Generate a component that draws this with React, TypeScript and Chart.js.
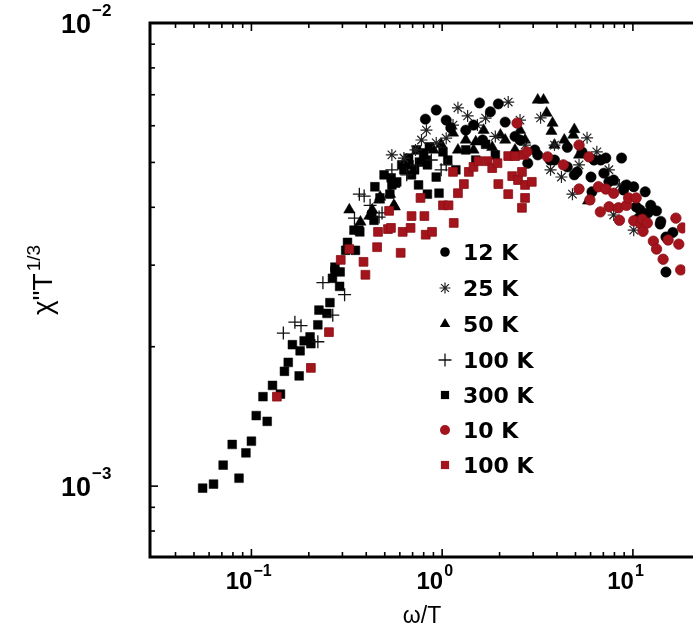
import React, { useEffect, useRef } from 'react';
import { Chart, registerables } from 'chart.js';

Chart.register(...registerables);

// ---- axis ranges ----
const X_MIN = 0.0294;
const X_MAX = 18.8;
const Y_MIN = 0.000703;
const Y_MAX = 0.01;

// ---- tick labels ----
const tickBase = '10';
const xMajorTicks = [0.1, 1, 10];
const xMajorExponents = ['\u22121', '0', '1'];
const xMinorTicks = [0.04, 0.05, 0.06, 0.07, 0.08, 0.09, 0.2, 0.3, 0.4, 0.5, 0.6, 0.7, 0.8, 0.9, 2, 3, 4, 5, 6, 7, 8, 9];
const yMajorTicks = [0.001, 0.01];
const yMajorExponents = ['\u22123', '\u22122'];
const yMinorTicks = [0.0008, 0.0009, 0.002, 0.003, 0.004, 0.005, 0.006, 0.007, 0.008, 0.009];

const xAxisTitle = 'ω/T';
const yAxisTitleMain = 'χ"T';
const yAxisTitleSup = '1/3';

const legendLabels = ['12 K', '25 K', '50 K', '100 K', '300 K', '10 K', '100 K'];

// ---- series: 12 K (black circles) ----
const x12K = [0.817, 0.931, 1.05, 1.11, 1.33, 1.46, 1.57, 1.63, 1.79, 1.97, 2.14, 2.41, 2.56, 2.81, 3.06, 3.17, 3.68, 3.88, 4.53, 4.53, 4.93, 5.10, 5.41, 6.03, 6.10, 6.25, 6.78, 7.04, 7.21, 7.48, 7.93, 8.72, 8.93, 9.26, 10.1, 10.4, 10.7, 10.9, 11.6, 11.7, 12.0, 12.4, 13.3, 13.9, 14.0, 14.9, 14.9, 16.2];
const y12K = [0.00620, 0.00649, 0.00617, 0.00594, 0.00587, 0.00602, 0.00672, 0.00559, 0.00643, 0.00669, 0.00611, 0.00569, 0.00559, 0.00498, 0.00532, 0.00519, 0.00506, 0.00506, 0.00539, 0.00489, 0.00470, 0.00477, 0.00527, 0.00465, 0.00432, 0.00506, 0.00506, 0.00474, 0.00511, 0.00454, 0.00458, 0.00511, 0.00436, 0.00447, 0.00443, 0.00401, 0.00379, 0.00395, 0.00432, 0.00372, 0.00389, 0.00404, 0.00393, 0.00368, 0.00373, 0.00345, 0.00290, 0.00353];

// ---- series: 25 K (asterisks) ----
const x25K = [0.545, 0.63, 0.725, 0.779, 0.827, 0.931, 1.05, 1.14, 1.21, 1.36, 1.53, 1.69, 1.90, 2.22, 2.56, 2.72, 3.28, 3.70, 3.88, 4.22, 4.82, 5.22, 5.75, 6.47, 7.48, 7.93, 8.50, 10.1];
const y25K = [0.00519, 0.00511, 0.00532, 0.00559, 0.00587, 0.00551, 0.00564, 0.00602, 0.00656, 0.00630, 0.00602, 0.00623, 0.00569, 0.00675, 0.00617, 0.00545, 0.00624, 0.00482, 0.00545, 0.00465, 0.00427, 0.00494, 0.00565, 0.00527, 0.00482, 0.00385, 0.00447, 0.00357];

// ---- series: 50 K (triangles) ----
const x50K = [0.326, 0.351, 0.373, 0.415, 0.430, 0.467, 0.473, 0.533, 0.558, 0.565, 0.652, 0.779, 0.90, 0.988, 1.14, 1.21, 1.33, 1.46, 1.50, 1.65, 1.83, 2.02, 2.14, 2.41, 2.56, 2.72, 3.17, 3.40, 3.53, 3.74, 3.79, 3.88, 4.37, 4.87, 4.93, 5.22, 5.82];
const y50K = [0.00395, 0.00357, 0.00372, 0.00383, 0.00395, 0.00415, 0.00421, 0.00427, 0.00404, 0.00401, 0.00506, 0.00506, 0.00532, 0.00547, 0.00579, 0.00532, 0.00559, 0.00532, 0.00554, 0.00587, 0.00539, 0.00573, 0.00559, 0.00532, 0.00587, 0.00559, 0.00682, 0.00682, 0.00639, 0.00584, 0.00608, 0.00545, 0.00559, 0.00573, 0.00589, 0.00519, 0.00413];

// ---- series: 100 K (plus) ----
const x100K = [0.147, 0.169, 0.182, 0.223, 0.237, 0.267, 0.308, 0.347, 0.368, 0.390, 0.419, 0.467, 0.484, 0.545, 0.652, 0.734, 0.877, 0.988, 1.05];
const y100K = [0.00214, 0.00226, 0.00222, 0.00205, 0.00275, 0.00234, 0.00259, 0.00379, 0.00427, 0.00423, 0.00404, 0.00381, 0.00389, 0.00482, 0.00470, 0.00494, 0.00506, 0.00482, 0.00494];

// ---- series: 300 K (black squares) ----
const x300K = [0.0555, 0.0633, 0.0711, 0.0793, 0.0861, 0.0936, 0.100, 0.106, 0.115, 0.121, 0.129, 0.142, 0.149, 0.156, 0.164, 0.178, 0.180, 0.189, 0.203, 0.205, 0.223, 0.226, 0.249, 0.258, 0.266, 0.274, 0.274, 0.290, 0.292, 0.312, 0.319, 0.345, 0.351, 0.366, 0.370, 0.428, 0.439, 0.444, 0.472, 0.496, 0.532, 0.540, 0.545, 0.570, 0.578, 0.614, 0.630, 0.667, 0.671, 0.691, 0.717, 0.734, 0.752, 0.760, 0.80, 0.827, 0.837, 0.837, 0.857, 0.931, 0.963, 1.01, 1.07, 1.18, 1.33, 1.50, 1.69, 1.90];
const y300K = [0.000990, 0.00101, 0.00111, 0.00123, 0.00104, 0.00118, 0.00125, 0.00142, 0.00156, 0.00138, 0.00165, 0.00158, 0.00177, 0.00185, 0.00202, 0.00173, 0.00196, 0.00206, 0.00210, 0.00203, 0.00223, 0.00240, 0.00236, 0.00249, 0.00281, 0.00291, 0.00297, 0.00270, 0.00290, 0.00323, 0.00336, 0.00357, 0.00323, 0.00357, 0.00354, 0.00385, 0.00375, 0.00443, 0.00419, 0.00470, 0.00427, 0.00463, 0.00447, 0.00451, 0.00454, 0.00494, 0.00482, 0.00511, 0.00494, 0.00470, 0.00482, 0.00532, 0.00447, 0.00501, 0.00524, 0.00506, 0.00427, 0.00494, 0.00540, 0.00465, 0.00429, 0.00527, 0.00506, 0.00482, 0.00532, 0.00506, 0.00547, 0.00519];

// ---- series: 10 K (red circles) ----
const x10Kred = [2.47, 2.78, 3.57, 4.32, 5.22, 5.22, 5.88, 5.95, 6.60, 6.75, 7.21, 7.50, 7.93, 8.40, 8.50, 9.26, 9.50, 10.1, 10.4, 11.0, 11.2, 11.3, 11.9, 12.8, 13.3, 14.4, 15.3, 16.8, 17.4, 17.8, 18.2];
const y10Kred = [0.00608, 0.00527, 0.00514, 0.00494, 0.00545, 0.00438, 0.00514, 0.00415, 0.00443, 0.00391, 0.00438, 0.00401, 0.00429, 0.00399, 0.00375, 0.00404, 0.00419, 0.00374, 0.00419, 0.00368, 0.00377, 0.00355, 0.00370, 0.00338, 0.00325, 0.00309, 0.00340, 0.00379, 0.00333, 0.00293, 0.00361];

// ---- series: 100 K (red squares) ----
const x100Kred = [0.136, 0.205, 0.255, 0.294, 0.326, 0.387, 0.396, 0.456, 0.461, 0.520, 0.527, 0.539, 0.606, 0.621, 0.683, 0.691, 0.770, 0.807, 0.820, 0.885, 1.01, 1.08, 1.14, 1.15, 1.21, 1.30, 1.38, 1.46, 1.55, 1.73, 1.83, 1.95, 1.97, 2.22, 2.22, 2.33, 2.41, 2.50, 2.62, 2.62, 2.68, 2.72, 2.72, 2.95];
const y100Kred = [0.00156, 0.00180, 0.00215, 0.00308, 0.00325, 0.00305, 0.00286, 0.00328, 0.00354, 0.00359, 0.00393, 0.00361, 0.00319, 0.00354, 0.00361, 0.00383, 0.00419, 0.00383, 0.00349, 0.00354, 0.00404, 0.00404, 0.00477, 0.00370, 0.00429, 0.00449, 0.00477, 0.00489, 0.00503, 0.00503, 0.00486, 0.00498, 0.00449, 0.00516, 0.00427, 0.00467, 0.00516, 0.00458, 0.00477, 0.00399, 0.00519, 0.00447, 0.00419, 0.00454];

const RED = '#a3141c';
const RED_EDGE = '#8a0f15';

const pts = (xs: number[], ys: number[]) => xs.map((x, i) => ({ x, y: ys[i] }));

const TICK_FONT = '"Liberation Sans", Arial, Helvetica, sans-serif';
const LEGEND_FONT = '"DejaVu Sans", "Liberation Sans", sans-serif';

function drawMarker(ctx: CanvasRenderingContext2D, style: string, x: number, y: number, r: number, fill: string, stroke: string, lw: number) {
  ctx.save();
  ctx.fillStyle = fill;
  ctx.strokeStyle = stroke;
  ctx.lineWidth = lw;
  ctx.beginPath();
  if (style === 'circle') {
    ctx.arc(x, y, r, 0, Math.PI * 2);
    ctx.fill();
  } else if (style === 'rect') {
    const s = r * Math.SQRT1_2;
    ctx.rect(x - s, y - s, 2 * s, 2 * s);
    ctx.fill();
  } else if (style === 'triangle') {
    for (let k = 0; k < 3; k++) {
      const ang = (k * 2 * Math.PI) / 3;
      const px = x + Math.sin(ang) * r;
      const py = y - Math.cos(ang) * r;
      if (k === 0) ctx.moveTo(px, py); else ctx.lineTo(px, py);
    }
    ctx.closePath();
    ctx.fill();
  } else if (style === 'cross') {
    ctx.moveTo(x - r, y); ctx.lineTo(x + r, y);
    ctx.moveTo(x, y - r); ctx.lineTo(x, y + r);
    ctx.stroke();
  } else if (style === 'star') {
    ctx.moveTo(x - r, y); ctx.lineTo(x + r, y);
    ctx.moveTo(x, y - r); ctx.lineTo(x, y + r);
    const d = r * Math.SQRT1_2;
    ctx.moveTo(x - d, y - d); ctx.lineTo(x + d, y + d);
    ctx.moveTo(x - d, y + d); ctx.lineTo(x + d, y - d);
    ctx.stroke();
  }
  ctx.restore();
}

const framePlugin = {
  id: 'frameAndLabels',
  beforeDatasetsDraw(chart: any) {
    const { ctx, chartArea: a } = chart;
    const xs = chart.scales.x;
    const ys = chart.scales.y;
    ctx.save();
    ctx.strokeStyle = '#000';
    ctx.lineJoin = 'miter';
    ctx.lineWidth = 3;
    ctx.beginPath();
    ctx.moveTo(chart.width, a.top);
    ctx.lineTo(a.left, a.top);
    ctx.lineTo(a.left, a.bottom);
    ctx.lineTo(chart.width, a.bottom);
    ctx.stroke();

    ctx.lineWidth = 1.6;
    const seg = (x1: number, y1: number, x2: number, y2: number) => {
      ctx.beginPath();
      ctx.moveTo(x1, y1);
      ctx.lineTo(x2, y2);
      ctx.stroke();
    };
    xMinorTicks.forEach((v) => {
      const p = xs.getPixelForValue(v);
      seg(p, a.bottom, p, a.bottom - 5);
      seg(p, a.top, p, a.top + 5);
    });
    xMajorTicks.forEach((v) => {
      const p = xs.getPixelForValue(v);
      seg(p, a.bottom, p, a.bottom - 8);
      seg(p, a.top, p, a.top + 8);
    });
    yMinorTicks.forEach((v) => {
      const p = ys.getPixelForValue(v);
      seg(a.left, p, a.left + 5, p);
    });
    yMajorTicks.forEach((v) => {
      const p = ys.getPixelForValue(v);
      seg(a.left, p, a.left + 8, p);
    });

    // tick labels
    ctx.fillStyle = '#000';
    ctx.textBaseline = 'alphabetic';
    xMajorTicks.forEach((v, i) => {
      const p = xs.getPixelForValue(v);
      ctx.font = `bold 24px ${TICK_FONT}`;
      ctx.textAlign = 'right';
      ctx.fillText(tickBase, p + 1, a.bottom + 32);
      ctx.font = `bold 16px ${TICK_FONT}`;
      ctx.textAlign = 'left';
      ctx.fillText(xMajorExponents[i], p + 2, a.bottom + 19);
    });
    yMajorTicks.forEach((v, i) => {
      const p = ys.getPixelForValue(v);
      ctx.font = `bold 27px ${TICK_FONT}`;
      ctx.textAlign = 'right';
      ctx.fillText(tickBase, a.left - 59, p + 10);
      ctx.font = `bold 17px ${TICK_FONT}`;
      ctx.textAlign = 'left';
      ctx.fillText(yMajorExponents[i], a.left - 58, p - 7);
    });

    // x axis title
    ctx.font = `23px ${TICK_FONT}`;
    ctx.textAlign = 'center';
    ctx.fillText(xAxisTitle, 422, a.bottom + 66);

    // y axis title (rotated)
    ctx.save();
    ctx.translate(52, 280);
    ctx.rotate(-Math.PI / 2);
    ctx.font = `28px ${TICK_FONT}`;
    const w1 = ctx.measureText(yAxisTitleMain).width;
    ctx.font = `19px ${TICK_FONT}`;
    const w2 = ctx.measureText(yAxisTitleSup).width;
    const start = -(w1 + w2 + 2) / 2;
    ctx.textAlign = 'left';
    ctx.font = `28px ${TICK_FONT}`;
    ctx.fillText(yAxisTitleMain, start, 0);
    ctx.font = `19px ${TICK_FONT}`;
    ctx.fillText(yAxisTitleSup, start + w1 + 2, -12);
    ctx.restore();

    ctx.restore();
  },
  afterDraw(chart: any) {
    const { ctx } = chart;
    const rowY = [252, 288, 324, 360, 395, 430, 465];
    const mk = [
      { s: 'circle', r: 4.8, f: '#000', st: '#000', lw: 1 },
      { s: 'star', r: 5.5, f: '#222', st: '#222', lw: 1.2 },
      { s: 'triangle', r: 6, f: '#000', st: '#000', lw: 1 },
      { s: 'cross', r: 6.5, f: '#111', st: '#111', lw: 1.3 },
      { s: 'rect', r: 5.8, f: '#000', st: '#000', lw: 1 },
      { s: 'circle', r: 5, f: RED, st: RED_EDGE, lw: 1 },
      { s: 'rect', r: 5.8, f: RED, st: RED_EDGE, lw: 1 },
    ];
    ctx.save();
    legendLabels.forEach((lab, i) => {
      const m = mk[i];
      drawMarker(ctx, m.s, 445, rowY[i], m.r, m.f, m.st, m.lw);
      ctx.fillStyle = '#000';
      ctx.font = `bold 22px ${LEGEND_FONT}`;
      ctx.textAlign = 'left';
      ctx.textBaseline = 'alphabetic';
      ctx.fillText(lab, 463, rowY[i] + 8);
    });
    ctx.restore();
  },
};

export default function App() {
  const canvasRef = useRef<HTMLCanvasElement | null>(null);

  useEffect(() => {
    document.body.style.margin = '0';
    const canvas = canvasRef.current;
    if (!canvas) return;
    const chart = new Chart(canvas, {
      type: 'scatter',
      data: {
        datasets: [
          { label: legendLabels[0], data: pts(x12K, y12K), pointStyle: 'circle', pointRadius: 5.2, backgroundColor: '#000', borderColor: '#000', borderWidth: 0.5, order: 2 },
          { label: legendLabels[1], data: pts(x25K, y25K), pointStyle: 'star', pointRadius: 6, backgroundColor: '#222', borderColor: '#222', borderWidth: 1.2, order: 2 },
          { label: legendLabels[2], data: pts(x50K, y50K), pointStyle: 'triangle', pointRadius: 6.5, backgroundColor: '#000', borderColor: '#000', borderWidth: 0.5, order: 2 },
          { label: legendLabels[3], data: pts(x100K, y100K), pointStyle: 'cross', pointRadius: 6.5, backgroundColor: '#111', borderColor: '#111', borderWidth: 1.3, order: 2 },
          { label: legendLabels[4], data: pts(x300K, y300K), pointStyle: 'rect', pointRadius: 6.2, backgroundColor: '#000', borderColor: '#000', borderWidth: 0.5, order: 2 },
          { label: legendLabels[5], data: pts(x10Kred, y10Kred), pointStyle: 'circle', pointRadius: 5.2, backgroundColor: RED, borderColor: RED_EDGE, borderWidth: 0.8, order: 1 },
          { label: legendLabels[6], data: pts(x100Kred, y100Kred), pointStyle: 'rect', pointRadius: 6.2, backgroundColor: RED, borderColor: RED_EDGE, borderWidth: 0.8, order: 1 },
        ],
      },
      options: {
        animation: false,
        responsive: false,
        devicePixelRatio: 1,
        layout: { padding: { top: 23, left: 0, right: 0, bottom: 0 } },
        plugins: { legend: { display: false }, tooltip: { enabled: false } },
        scales: {
          x: {
            type: 'logarithmic',
            position: 'bottom',
            min: X_MIN,
            max: X_MAX,
            grid: { display: false },
            border: { display: false },
            ticks: { display: false },
            afterFit: (s: any) => { s.height = 79; },
          },
          y: {
            type: 'logarithmic',
            position: 'left',
            min: Y_MIN,
            max: Y_MAX,
            grid: { display: false },
            border: { display: false },
            ticks: { display: false },
            afterFit: (s: any) => { s.width = 150; },
          },
        },
      },
      plugins: [framePlugin],
    } as any);
    return () => chart.destroy();
  }, []);

  return (
    <div style={{ width: 693, height: 636, background: '#fff' }}>
      <canvas ref={canvasRef} width={693} height={636} style={{ display: 'block' }} />
    </div>
  );
}
